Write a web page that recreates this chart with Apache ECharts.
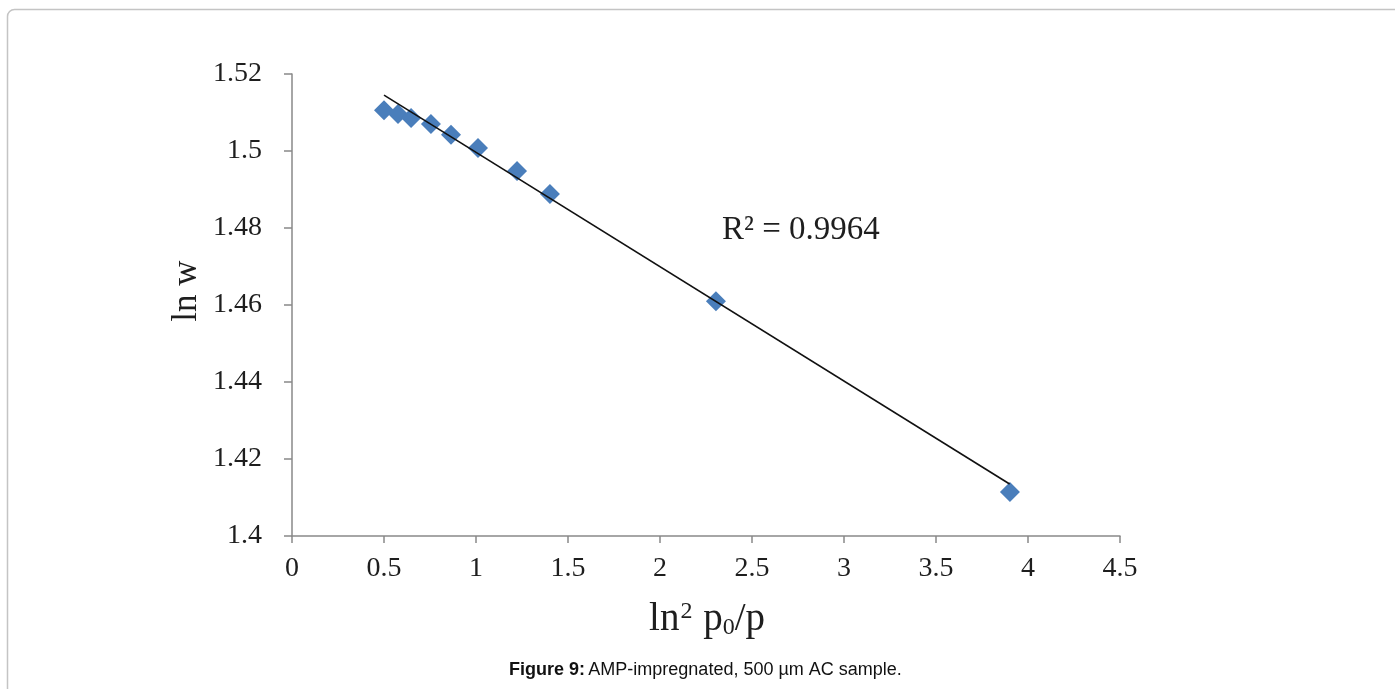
<!DOCTYPE html>
<html>
<head>
<meta charset="utf-8">
<script src="https://cdn.jsdelivr.net/npm/echarts@6/dist/echarts.min.js"></script>
<style>
  html, body { margin: 0; padding: 0; background: #fff; }
  #chart { width: 1395px; height: 689px; }
</style>
</head>
<body>
<div id="chart"></div>
<script>
// measured points (ln^2 p0/p , ln w)
const xVals = [0.5, 0.576, 0.647, 0.755, 0.864, 1.011, 1.223, 1.402, 2.304, 3.902]
const yVals = [1.5106, 1.5096, 1.5086, 1.507, 1.5042, 1.5008, 1.4948, 1.4888, 1.461, 1.4114]
// linear trendline end points as drawn
const trendX = [0.5, 3.9]
const trendY = [1.5145, 1.4135]
const rSquared = '0.9964'
const xTicks = [0, 4.5, 0.5]   // min, max, step
const yTicks = [1.4, 1.52, 0.02]

const points = xVals.map((x, i) => [x, yVals[i]])
const trend = trendX.map((x, i) => [x, trendY[i]])

const serif = '"Liberation Serif", "Times New Roman", serif'
const sans = '"Liberation Sans", Arial, sans-serif'
const axisGray = '#898989'
const textColor = '#1e1e1e'

const myChart = echarts.init(document.getElementById('chart'))
myChart.setOption({
  animation: false,
  grid: {
    left: 292,
    top: 74,
    right: 275,
    bottom: 153,
    containLabel: false
  },
  xAxis: {
    type: 'value',
    min: xTicks[0],
    max: xTicks[1],
    interval: xTicks[2],
    splitLine: { show: false },
    axisLine: { lineStyle: { color: axisGray, width: 1.5 } },
    axisTick: { show: true, length: 7, lineStyle: { color: axisGray, width: 1.5 } },
    axisLabel: {
      color: textColor,
      fontFamily: serif,
      fontSize: 28,
      margin: 19
    }
  },
  yAxis: {
    type: 'value',
    min: yTicks[0],
    max: yTicks[1],
    interval: yTicks[2],
    splitLine: { show: false },
    axisLine: { show: true, lineStyle: { color: axisGray, width: 1.5 } },
    axisTick: { show: true, length: 8, lineStyle: { color: axisGray, width: 1.5 } },
    axisLabel: {
      color: textColor,
      fontFamily: serif,
      fontSize: 28,
      margin: 30,
      formatter: v => String(parseFloat(v.toFixed(2)))
    }
  },
  series: [
    {
      name: 'ln w',
      type: 'scatter',
      symbol: 'diamond',
      symbolSize: 20,
      itemStyle: { color: '#4a7ebb', opacity: 1 },
      data: points,
      z: 2
    },
    {
      name: 'trend',
      type: 'line',
      showSymbol: false,
      symbol: 'none',
      lineStyle: { color: '#111', width: 1.6 },
      data: trend,
      z: 3
    }
  ],
  graphic: [
    {
      type: 'rect',
      shape: { x: 7.5, y: 9.5, width: 1500, height: 800, r: 7 },
      style: { fill: 'none', stroke: '#c4c4c4', lineWidth: 1.5 },
      silent: true,
      z: -1
    },
    // y axis title
    {
      type: 'text',
      x: 187,
      y: 291,
      rotation: Math.PI / 2,
      style: {
        text: 'ln w',
        font: '35px ' + serif,
        fill: textColor,
        align: 'center',
        verticalAlign: 'middle'
      }
    },
    // x axis title
    {
      type: 'text',
      x: 707,
      y: 620,
      style: {
        text: '{a|ln}{sup|2}{a| p}{sub|0}{a|/p}',
        align: 'center',
        verticalAlign: 'middle',
        rich: {
          a: { fontSize: 39, fontFamily: serif, fill: textColor },
          sup: { fontSize: 24, fontFamily: serif, fill: textColor, verticalAlign: 'top', padding: [0, 1, 16, 1] },
          sub: { fontSize: 24, fontFamily: serif, fill: textColor, verticalAlign: 'bottom', padding: [12, 0, 0, 0] }
        }
      }
    },
    {
      type: 'text',
      x: 722,
      y: 230,
      style: {
        text: 'R² = ' + rSquared,
        font: '33px ' + serif,
        fill: textColor,
        verticalAlign: 'middle'
      }
    },
    {
      type: 'text',
      x: 509,
      y: 670,
      style: {
        text: '{b|Figure 9:} {n|AMP-impregnated, 500 µm AC sample.}',
        verticalAlign: 'middle',
        rich: {
          b: { fontFamily: sans, fontSize: 18, fontWeight: 'bold', fill: '#111' },
          n: { fontFamily: sans, fontSize: 18, fill: '#111' }
        }
      }
    }
  ]
})
</script>
</body>
</html>
